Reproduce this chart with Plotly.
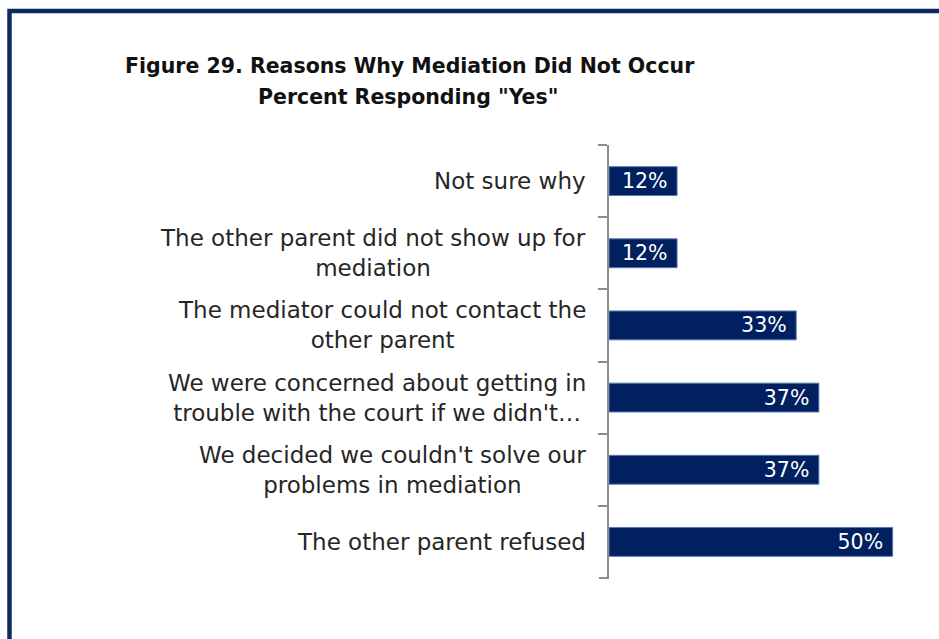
import plotly.graph_objects as go

# Survey responses, listed top to bottom as they appear in the chart
reasons = [
    "Not sure why",
    "The other parent did not show up for<br>mediation",
    "The mediator could not contact the<br>other parent",
    "We were concerned about getting in<br>trouble with the court if we didn't…",
    "We decided we couldn't solve our<br>problems in mediation",
    "The other parent refused",
]
pct_yes = [12, 12, 33, 37, 37, 50]

title_line1 = "Figure 29. Reasons Why Mediation Did Not Occur"
title_line2 = 'Percent Responding "Yes"'

W, H = 939, 639
L, R, T, B = 609, 18, 145, 61
x_max = 55

NAVY = "#002060"
AXIS_GREY = "#8c8c8c"
FONT = "DejaVu Sans"

fig = go.Figure(
    go.Bar(
        x=pct_yes,
        y=reasons,
        orientation="h",
        marker=dict(color=NAVY, line=dict(color="#5a78b0", width=1)),
        text=[f"{v}%\u00a0" for v in pct_yes],
        textposition="inside",
        insidetextanchor="end",
        constraintext="none",
        textfont=dict(family=FONT, size=20.5, color="white"),
        cliponaxis=False,
        hoverinfo="skip",
    )
)

# Category labels: right-aligned block, lines centred within it
annotations = [
    dict(
        text=r, x=0, y=r, xref="paper", yref="y",
        xanchor="right", yanchor="middle", align="center",
        xshift=-21, showarrow=False,
        font=dict(family=FONT, size=23, color="#262626"),
    )
    for r in reasons
]

# Two-line title
pw, ph = W - L - R, H - T - B
def px_x(px):
    return (px - L) / pw
def px_y(py):
    return (H - B - py) / ph

annotations += [
    dict(text=f"<b>{title_line1}</b>", x=px_x(410), y=px_y(66), xref="paper", yref="paper",
         xanchor="center", yanchor="middle", showarrow=False,
         font=dict(family=FONT, size=20.5, color="#111111")),
    dict(text=f"<b>{title_line2}</b>", x=px_x(408), y=px_y(97), xref="paper", yref="paper",
         xanchor="center", yanchor="middle", showarrow=False,
         font=dict(family=FONT, size=20.5, color="#111111")),
]

# Frame along the top and left edges, plus the closing tick at the axis foot
shapes = [
    dict(type="path", xref="paper", yref="paper",
         path=f"M {px_x(9.5)} {px_y(645)} L {px_x(9.5)} {px_y(11)} L {px_x(945)} {px_y(11)}",
         line=dict(color="#0d2b5e", width=4.5), layer="above"),
    dict(type="line", xref="paper", yref="paper",
         x0=px_x(599), x1=0, y0=0, y1=0,
         line=dict(color=AXIS_GREY, width=2), layer="above"),
]

fig.update_layout(
    width=W, height=H,
    margin=dict(l=L, r=R, t=T, b=B, pad=0),
    paper_bgcolor="white", plot_bgcolor="white",
    showlegend=False,
    bargap=0.6,
    annotations=annotations,
    shapes=shapes,
    xaxis=dict(range=[0, x_max], visible=False, fixedrange=True),
    yaxis=dict(
        range=[len(reasons) - 0.5, -0.5],
        showticklabels=False,
        showline=True, linecolor=AXIS_GREY, linewidth=2,
        ticks="outside", tickson="boundaries", ticklen=9,
        tickcolor=AXIS_GREY, tickwidth=2,
        showgrid=False, zeroline=False,
    ),
)

fig.write_html("out.html")
